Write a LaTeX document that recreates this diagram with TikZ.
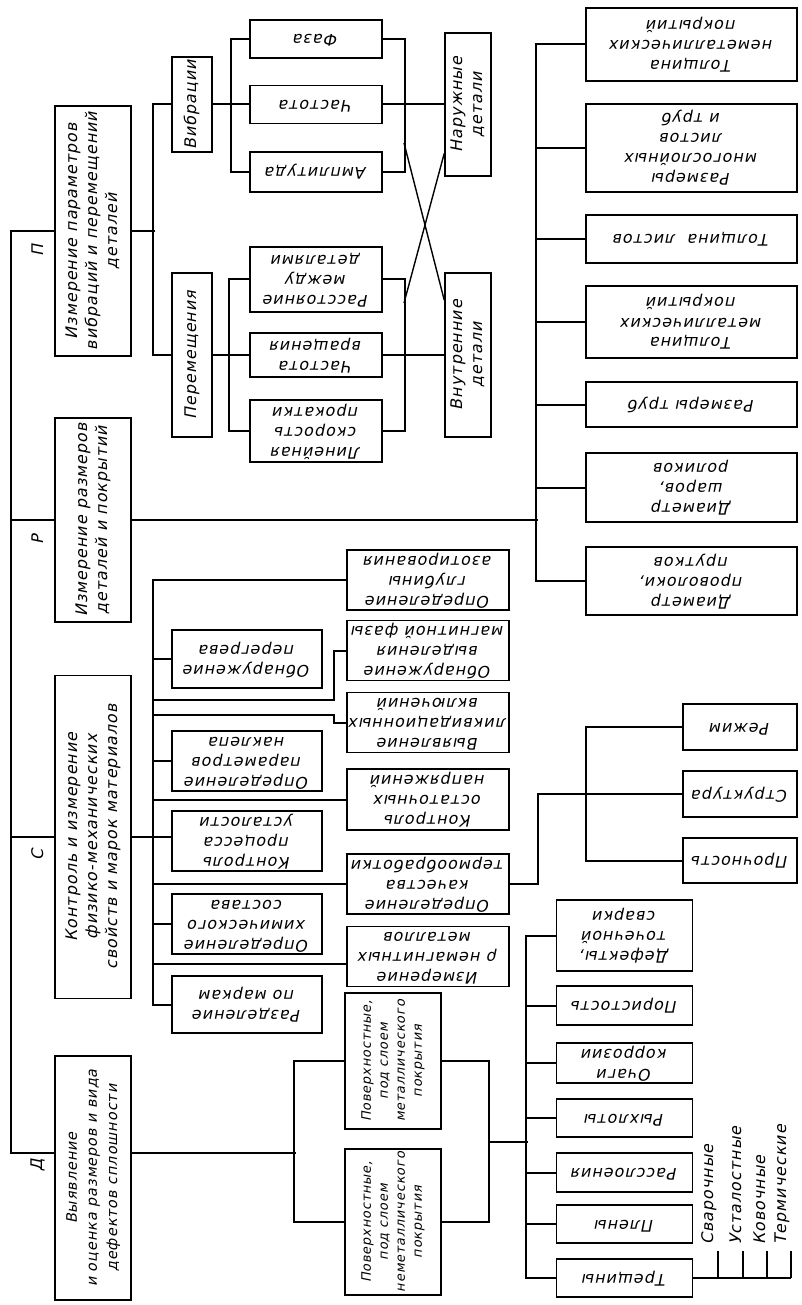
\documentclass[tikz,border=0pt]{standalone}
\usepackage{fontspec}
\usepackage{graphicx}
\setmainfont{DejaVu Sans}[FakeSlant=0.2, LetterSpace=6]
\usetikzlibrary{calc}

\newcommand{\up}[1]{\rotatebox{90}{\begin{tabular}{@{}c@{}}#1\end{tabular}}}
\newcommand{\flip}[1]{\rotatebox{180}{\begin{tabular}{@{}c@{}}#1\end{tabular}}}

\tikzset{
  box/.style={draw, line width=1.6pt, inner sep=0pt, font=\fontsize{16}{20}\selectfont},
  dims/.style 2 args={minimum width=#1pt, minimum height=#2pt},
  tight/.style={font=\fontsize{13}{17}\selectfont},
  link/.style={line width=2pt},
  cross/.style={line width=1.4pt},
  tag/.style={font=\fontsize{16}{20}\selectfont, inner xsep=6pt, inner ysep=1pt},
}

\begin{document}
\begin{tikzpicture}[x=1pt, y=-1pt]
  \useasboundingbox (0,0) rectangle (801,1305);

  \node[box, dims={76}{250}] (pmain) at (93,231) {\up{Измерение параметров\\вибраций и перемещений\\деталей}};
  \node[box, dims={76}{204}] (rmain) at (93,520) {\up{Измерение размеров\\деталей и покрытий}};
  \node[box, dims={76}{323}] (smain) at (93,837) {\up{Контроль и измерение\\физико-механических\\свойств и марок материалов}};
  \node[box, dims={76}{244}, font=\fontsize{14.5}{20}\selectfont] (dmain) at (93,1178) {\up{Выявление\\и оценка размеров и вида\\дефектов сплошности}};

  \node[tag, rotate=90] (lp) at (38,250) {П};
  \node[tag, rotate=90] (lr) at (38,540) {Р};
  \node[tag, rotate=90] (ls) at (38,855) {С};
  \node[tag, rotate=90] (ld) at (38,1165) {Д};

  \node[box, dims={40}{95}] (vib) at (192,104.5) {\up{Вибрации}};
  \node[box, dims={40}{164}] (perem) at (192,355) {\up{Перемещения}};
  \node[box, dims={132}{38}] (faza) at (316,39) {\flip{Фаза}};
  \node[box, dims={132}{38}] (chast) at (316,104.5) {\flip{Частота}};
  \node[box, dims={132}{40}] (ampl) at (316,172) {\flip{Амплитуда}};
  \node[box, dims={132}{65}] (rasst) at (316,279.5) {\flip{Расстояние\\между\\деталями}};
  \node[box, dims={132}{44}] (chvr) at (316,355) {\flip{Частота\\вращения}};
  \node[box, dims={132}{62}] (linsk) at (316,431) {\flip{Линейная\\скорость\\прокатки}};
  \node[box, dims={46}{143}] (nar) at (468,104.5) {\up{Наружные\\детали}};
  \node[box, dims={46}{164}] (vnutr) at (468,355) {\up{Внутренние\\детали}};
  \coordinate (vx) at (404,143);
  \coordinate (px) at (404,303);

  \node[box, dims={211}{73}] (tnm) at (691.5,44.5) {\flip{Толщина\\неметаллических\\покрытий}};
  \node[box, dims={211}{88}] (rml) at (691.5,148) {\flip{Размеры\\многослойных\\листов\\и труб}};
  \node[box, dims={211}{48}] (tl) at (691.5,239) {\flip{Толщина~~листов}};
  \node[box, dims={211}{72}] (tm) at (691.5,322) {\flip{Толщина\\металлических\\покрытий}};
  \node[box, dims={211}{45}] (rt) at (691.5,404.5) {\flip{Размеры труб}};
  \node[box, dims={211}{69}] (dsh) at (691.5,487.5) {\flip{Диаметр\\шаров,\\роликов}};
  \node[box, dims={211}{68}] (dpp) at (691.5,581) {\flip{Диаметр\\проволоки,\\прутков}};

  \node[box, dims={150}{58}] (pereg) at (247,659) {\flip{Обнаружение\\перегрева}};
  \node[box, dims={150}{60}] (nak) at (247,761) {\flip{Определение\\параметров\\наклепа}};
  \node[box, dims={150}{58}] (ust) at (247,841) {\flip{Контроль\\процесса\\усталости}};
  \node[box, dims={150}{58}] (him) at (247,924) {\flip{Определение\\химического\\состава}};
  \node[box, dims={150}{57}] (mark) at (247,1004.5) {\flip{Разделение\\по маркам}};
  \node[box, dims={162}{56}] (azot) at (428,580) {\flip{Определение\\глубины\\азотирования}};
  \node[box, dims={162}{57}] (magn) at (428,650.5) {\flip{Обнаружение\\выделения\\магнитной фазы}};
  \node[box, dims={162}{59}] (likv) at (428,722.5) {\flip{Выявление\\ликвидационных\\включений}};
  \node[box, dims={162}{61}] (ostn) at (428,799.5) {\flip{Контроль\\остаточных\\напряжений}};
  \node[box, dims={162}{58}] (term) at (428,884) {\flip{Определение\\качества\\термообработки}};
  \node[box, dims={162}{57}] (nemag) at (428,956.5) {\flip{Измерение\\ρ немагнитных\\металлов}};
  \node[box, dims={114}{46}] (rezh) at (740,727) {\flip{Режим}};
  \node[box, dims={114}{46}] (strukt) at (740,794) {\flip{Структура}};
  \node[box, dims={114}{45}] (proch) at (740,860.5) {\flip{Прочность}};

  \node[box, tight, dims={96}{136}] (pov1) at (393,1061) {\up{Поверхностные,\\под слоем\\металлического\\покрытия}};
  \node[box, tight, dims={96}{146}] (pov2) at (393,1222) {\up{Поверхностные,\\под слоем\\неметаллического\\покрытия}};
  \node[box, dims={136}{71}] (tsv) at (624.5,935.5) {\flip{Дефекты,\\точечной\\сварки}};
  \node[box, dims={136}{39}] (por) at (624.5,1005.5) {\flip{Пористость}};
  \node[box, dims={136}{40}] (korr) at (624.5,1063) {\flip{Очаги\\коррозии}};
  \node[box, dims={136}{38}] (ryh) at (624.5,1118) {\flip{Рыхлоты}};
  \node[box, dims={136}{39}] (rass) at (624.5,1172.5) {\flip{Расслоения}};
  \node[box, dims={136}{38}] (plen) at (624.5,1224) {\flip{Плены}};
  \node[box, dims={136}{38}] (tresh) at (624.5,1278) {\flip{Трещины}};
  \node[tag, rotate=90, anchor=south west] (lsvar) at (718,1251) {Сварочные};
  \node[tag, rotate=90, anchor=south west] (lust) at (743,1251) {Усталостные};
  \node[tag, rotate=90, anchor=south west] (lkov) at (767,1251) {Ковочные};
  \node[tag, rotate=90, anchor=south west] (lterm) at (791,1251) {Термические};

  \draw[link] (pmain.west) -- ++(-43,0) |- ([yshift=25pt]dmain.west);
  \draw[link] (rmain.west) -- ++(-43,0);
  \draw[link] (smain.west) -- ++(-43,0);

  \draw[link] (pmain.east) -- ++(23,0);
  \draw[link] (vib.west) -- ++(-18,0) |- (perem.west);
  \draw[link] (faza.west) -- ++(-18,0) |- (ampl.west);
  \draw[link] (vib.east) -- (chast.west);
  \draw[link] (rasst.west) -- ++(-20,0) |- (linsk.west);
  \draw[link] (perem.east) -- (chvr.west);
  \draw[link] (faza.east) -- ++(22,0) |- (ampl.east);
  \draw[link] (chast.east) -- (nar.west);
  \draw[link] (rasst.east) -- ++(22,0) |- (linsk.east);
  \draw[link] (chvr.east) -- (vnutr.west);
  \draw[cross] (vx) -- ([yshift=55pt]vnutr.west);
  \draw[cross] (px) -- ([yshift=-49pt]nar.west);

  \draw[link] (rmain.east) -- ++(406,0);
  \draw[link] (tnm.west) -- ++(-49,0) |- (dpp.west);
  \foreach \n in {rml,tl,tm,rt,dsh}
    \draw[link] (\n.west) -- ++(-49,0);

  \draw[link] (smain.east) -- (smain.east -| ust.west);
  \draw[link] (azot.west) -- ++(-193,0) |- (mark.west);
  \foreach \n in {pereg,nak,him}
    \draw[link] (\n.west) -- ++(-18,0);
  \foreach \n in {ostn,term}
    \draw[link] (\n.west) -- ++(-193,0);
  \draw[link] ([yshift=-7pt]nemag.west) -- ++(-193,0);
  \draw[link] (magn.west) -- ++(-12,0) -- ++(0,49.5) -- ++(-181,0);
  \draw[link] (likv.west) -- ++(-12,0) -- ++(0,-7.5) -- ++(-181,0);
  \draw[link] (term.east) -- ++(28,0) |- (strukt.west);
  \draw[link] (rezh.west) -- ++(-96,0) |- (proch.west);

  \draw[link] ([yshift=25pt]dmain.east) -- ++(164,0);
  \draw[link] (pov1.west) -- ++(-50,0) |- (pov2.west);
  \draw[link] (pov1.east) -- ++(47,0) |- (pov2.east);
  \draw[link] ($(pov1.east)!0.5!(pov2.east)$) ++(47,0) -- ++(39,0);
  \draw[link] (tsv.west) -- ++(-29.5,0) |- (tresh.west);
  \foreach \n in {por,korr,ryh,rass,plen}
    \draw[link] (\n.west) -- ++(-29.5,0);
  \draw[link] (tresh.east) -- (tresh.east -| lterm.south west);
  \foreach \n in {lsvar,lust,lkov,lterm}
    \draw[link] (\n.south west) -- (\n.south west |- tresh.east);
\end{tikzpicture}
\end{document}
